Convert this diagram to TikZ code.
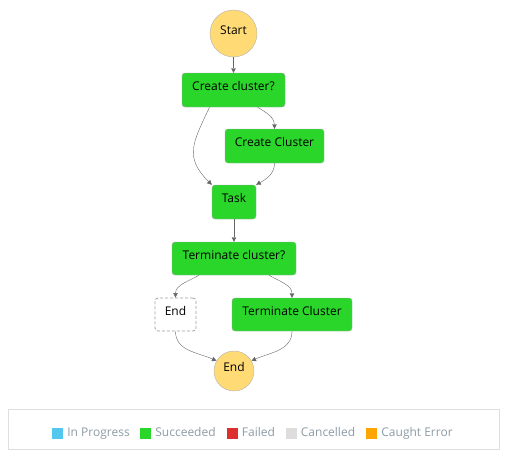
\documentclass[tikz,border=0pt]{standalone}
\usepackage{fontspec}
\setmainfont{Open Sans}
\usetikzlibrary{arrows.meta}
\definecolor{stepgreen}{HTML}{2BD62B}
\definecolor{termyellow}{HTML}{FFDA75}
\definecolor{flowgray}{HTML}{666666}
\definecolor{legendtext}{HTML}{8C9BA5}
\definecolor{inprogress}{HTML}{53C8EE}
\definecolor{failed}{HTML}{DE2F2F}
\definecolor{cancelled}{HTML}{DDDDDD}
\definecolor{caught}{HTML}{FFA500}
\begin{document}
\begin{tikzpicture}[x=1pt,y=1pt,font=\fontsize{12}{14}\selectfont]
		\useasboundingbox (0,0) rectangle (505,-455);
		\begin{scope}[every node/.style={draw=gray!60, fill=termyellow, circle, inner sep=0pt, text height=8pt, text depth=7pt}]
			\node (start)[minimum size=47pt] at (233.5,-33.5) {Start};
			\node (finish)[minimum size=40pt] at (234,-371) {End};
		\end{scope}
		\begin{scope}[every node/.style={draw=gray!70, fill=stepgreen, rounded corners=3pt, inner sep=0pt, minimum height=34pt, text height=8pt, text depth=7pt}]
			\node (createq)[minimum width=103pt] at (233.5,-90) {Create cluster?};
			\node (createcl)[minimum width=99pt] at (274.5,-146) {Create Cluster};
			\node (task)[minimum width=44pt] at (234,-202) {Task};
			\node (termq)[minimum width=124pt, minimum height=33pt] at (234,-258.5) {Terminate cluster?};
			\node (termcl)[minimum width=120pt, minimum height=33pt] at (292,-314.5) {Terminate Cluster};
		\end{scope}
		\node (skip)[draw=gray!75, line width=0.8pt, dash pattern=on 3pt off 2pt, fill=white, rounded corners=3pt, inner sep=0pt, minimum width=41pt, minimum height=33pt, text height=8pt, text depth=7pt] at (175.5,-314.5) {End};
		\begin{scope}[every edge/.style={draw=flowgray, thin, -{Triangle[length=4.5pt,width=4.5pt]}}]
			\path (start.south) edge (createq.north);
			\path ([xshift=-24pt]createq.south) edge[out=-115, in=135, looseness=1.3] (task.north west);
			\path ([xshift=24pt]createq.south) edge[out=-30, in=90] (createcl.north);
			\path (createcl.south) edge[out=-90, in=30] (task.north east);
			\path (task.south) edge (termq.north);
			\path ([xshift=-35pt]termq.south) edge[out=-150, in=90] (skip.north);
			\path ([xshift=35pt]termq.south) edge[out=-30, in=90] (termcl.north);
			\path (skip.south) edge[out=-90, in=155] (finish.150);
			\path (termcl.south) edge[out=-90, in=25] (finish.30);
		\end{scope}
		% legend
		\node (legend)[draw=gray!25, line width=1pt, minimum width=491pt, minimum height=40pt] at (253.5,-429) {};
		\begin{scope}[every node/.style={minimum size=11pt, inner sep=0pt}, every label/.style={text=legendtext, inner sep=0pt, label distance=4pt, text height=8.5pt, text depth=2.5pt}]
			\node (inprog)[fill=inprogress, label=right:In Progress] at (57.5,-433.5) {};
			\node (succ)[fill=stepgreen, label=right:Succeeded] at (145.5,-433.5) {};
			\node (fail)[fill=failed, label=right:Failed] at (232,-433.5) {};
			\node (canc)[fill=cancelled, label=right:Cancelled] at (291,-433.5) {};
			\node (caught)[fill=caught, label=right:Caught Error] at (371.5,-433.5) {};
		\end{scope}
	\end{tikzpicture}
\end{document}
